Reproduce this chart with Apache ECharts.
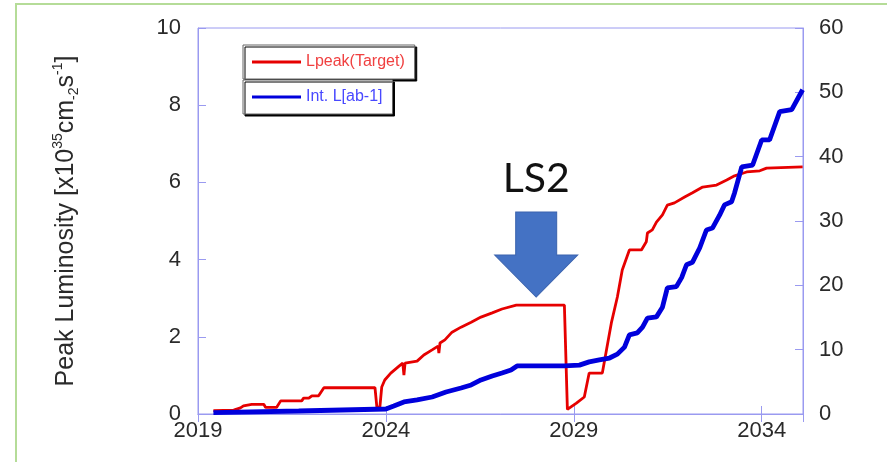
<!DOCTYPE html>
<html>
<head>
<meta charset="utf-8">
<script src="https://cdn.jsdelivr.net/npm/echarts@6/dist/echarts.min.js"></script>
<style>
  html, body { margin: 0; padding: 0; background: #fff; }
  #wrap { position: relative; width: 887px; height: 462px; overflow: hidden; }
  #frame { position: absolute; left: 15px; top: 3px; right: -5px; bottom: -5px;
           border-top: 2px solid #b5dc98; border-left: 2px solid #b5dc98; pointer-events: none; }
  #chart { position: absolute; left: 0; top: 0; width: 887px; height: 462px; }
</style>
</head>
<body>
<div id="wrap">
  <div id="chart"></div>
  <div id="frame"></div>
</div>
<script>
// Lpeak(Target) – left axis, x10^35 cm-2 s-1
const peakYears = [2019.41, 2019.95, 2020.13, 2020.21, 2020.43, 2020.75, 2020.8, 2021.09, 2021.2, 2021.76,
  2021.81, 2021.95, 2022.03, 2022.21, 2022.35, 2023.71, 2023.76, 2023.84, 2023.89, 2023.97,
  2024.13, 2024.35, 2024.45, 2024.48, 2024.51, 2024.83, 2025.01, 2025.23, 2025.39, 2025.41,
  2025.44, 2025.57, 2025.76, 2026.0, 2026.27, 2026.53, 2026.83, 2027.09, 2027.47, 2028.75,
  2028.83, 2029.07, 2029.28, 2029.41, 2029.76, 2029.87, 2030.0, 2030.16, 2030.29, 2030.48,
  2030.8, 2030.93, 2030.96, 2031.09, 2031.2, 2031.36, 2031.49, 2031.68, 2031.95, 2032.16,
  2032.43, 2032.8, 2033.07, 2033.28, 2033.6, 2033.95, 2034.13, 2035.09]
const peakValues = [0.09, 0.1, 0.16, 0.21, 0.25, 0.25, 0.17, 0.17, 0.34, 0.34,
  0.41, 0.41, 0.47, 0.47, 0.68, 0.68, 0.18, 0.18, 0.7, 0.88,
  1.06, 1.24, 1.32, 1.01, 1.32, 1.37, 1.53, 1.66, 1.76, 1.58,
  1.84, 1.92, 2.12, 2.25, 2.38, 2.51, 2.62, 2.72, 2.82, 2.82,
  0.12, 0.28, 0.44, 1.06, 1.06, 1.66, 2.36, 3.03, 3.73, 4.25,
  4.25, 4.46, 4.69, 4.77, 4.97, 5.16, 5.41, 5.47, 5.62, 5.73,
  5.88, 5.93, 6.06, 6.17, 6.27, 6.3, 6.37, 6.4]

// Int. L[ab-1] – right axis
const intYears = [2019.41, 2021.68, 2024.0, 2024.21, 2024.48, 2024.83, 2025.23, 2025.6, 2026.0, 2026.27,
  2026.53, 2026.83, 2027.09, 2027.33, 2027.49, 2028.75, 2029.15, 2029.41, 2029.68, 2029.95,
  2030.16, 2030.35, 2030.48, 2030.69, 2030.83, 2030.96, 2031.2, 2031.36, 2031.49, 2031.73,
  2031.87, 2032.0, 2032.16, 2032.35, 2032.53, 2032.69, 2032.88, 2033.01, 2033.2, 2033.28,
  2033.47, 2033.76, 2034.0, 2034.21, 2034.48, 2034.8, 2035.09]
const intValues = [0.2, 0.47, 0.78, 1.24, 1.87, 2.18, 2.64, 3.42, 4.04, 4.51,
  5.29, 5.91, 6.38, 6.84, 7.47, 7.47, 7.6, 8.1, 8.4, 8.7,
  9.3, 10.4, 12.3, 12.6, 13.5, 14.9, 15.1, 16.6, 19.6, 19.8,
  21.2, 23.2, 23.6, 25.8, 28.6, 28.9, 30.9, 32.5, 33.0, 34.4,
  38.4, 38.7, 42.6, 42.6, 47.0, 47.3, 50.4]

const seriesNames = ['Lpeak(Target)', 'Int. L[ab-1]']
const yearMin = 2019
const yearMax = 2035.1
const ls2Year = 2028.0
const ls2Peak = 3.03

const axisColor = '#9a9af0'
const font = 'Liberation Sans, Arial, sans-serif'

const chart = echarts.init(document.getElementById('chart'), null, { renderer: 'canvas' })

const legendBase = {
  left: 243,
  orient: 'horizontal',
  icon: 'rect',
  itemWidth: 49,
  itemHeight: 3,
  itemGap: 0,
  padding: [9, 10, 9, 9],
  backgroundColor: '#fff',
  borderColor: '#666',
  borderWidth: 1,
  shadowColor: '#000',
  shadowBlur: 0,
  shadowOffsetX: 2,
  shadowOffsetY: 2,
  selectedMode: false,
}

const option = {
  animation: false,
  grid: { left: 198, right: 84, top: 28, bottom: 48, show: true, borderColor: axisColor, borderWidth: 1 },
  legend: [
    Object.assign({}, legendBase, {
      top: 45,
      data: [seriesNames[0]],
      textStyle: { color: '#f04040', fontSize: 16, fontFamily: font },
    }),
    Object.assign({}, legendBase, {
      top: 80,
      data: [seriesNames[1]],
      textStyle: { color: '#4848ff', fontSize: 16, fontFamily: font },
    }),
  ],
  xAxis: [
    {
      type: 'value',
      min: yearMin,
      max: yearMax,
      interval: 5,
      axisLine: { lineStyle: { color: axisColor } },
      axisTick: { inside: true, length: 8, lineStyle: { color: axisColor } },
      splitLine: { show: false },
      axisLabel: {
        showMaxLabel: false,
        formatter: (v) => String(v),
        color: '#2a2a2a',
        fontSize: 22,
        fontFamily: font,
        margin: 6,
      },
    },
    {
      type: 'value',
      position: 'top',
      min: yearMin,
      max: yearMax,
      interval: 5,
      axisLine: { lineStyle: { color: axisColor } },
      axisTick: { inside: true, length: 8, lineStyle: { color: axisColor } },
      splitLine: { show: false },
      axisLabel: { show: false },
    },
  ],
  yAxis: [
    {
      type: 'value',
      min: 0,
      max: 10,
      interval: 2,
      position: 'left',
      axisLine: { show: true, lineStyle: { color: axisColor } },
      axisTick: { show: true, inside: true, length: 8, lineStyle: { color: axisColor } },
      splitLine: { show: false },
      axisLabel: { color: '#2a2a2a', fontSize: 22, fontFamily: font, margin: 17 },
      name: '{a|Peak Luminosity [x10}{sup|35}{a|cm}{sub|-2}{a|s}{sup|-1}{a|]}',
      nameLocation: 'middle',
      nameRotate: 90,
      nameGap: 117,
      nameTextStyle: {
        color: '#2a2a2a',
        fontFamily: font,
        rich: {
          a: { fontSize: 25, fontFamily: font, color: '#2a2a2a', lineHeight: 30 },
          sup: { fontSize: 14, fontFamily: font, color: '#2a2a2a', verticalAlign: 'top', lineHeight: 14 },
          sub: { fontSize: 14, fontFamily: font, color: '#2a2a2a', verticalAlign: 'bottom', lineHeight: 14 },
        },
      },
    },
    {
      type: 'value',
      min: 0,
      max: 60,
      interval: 10,
      position: 'right',
      axisLine: { show: true, lineStyle: { color: axisColor } },
      axisTick: { show: true, inside: true, length: 8, lineStyle: { color: axisColor } },
      splitLine: { show: false },
      axisLabel: { color: '#2a2a2a', fontSize: 22, fontFamily: font, margin: 16 },
    },
  ],
  series: [
    {
      name: seriesNames[0],
      type: 'line',
      yAxisIndex: 0,
      showSymbol: false,
      symbol: 'none',
      data: peakYears.map((y, i) => [y, peakValues[i]]),
      lineStyle: { color: '#e60000', width: 2.8 },
      itemStyle: { color: '#e60000' },
      z: 2,
      markPoint: {
        silent: true,
        data: [
          {
            coord: [ls2Year, ls2Peak],
            symbol: 'path://M21,0 L62,0 L62,43 L83,43 L41.5,85 L0,43 L21,43 Z',
            symbolSize: [83, 85],
            symbolOffset: [0, '-50%'],
            itemStyle: { color: '#4472c4', borderColor: '#3a62ad', borderWidth: 1 },
            label: {
              show: true,
              formatter: 'LS2',
              position: 'top',
              distance: 12,
              color: '#111',
              fontSize: 41,
              fontFamily: 'Lato, sans-serif',
            },
          },
        ],
      },
    },
    {
      name: seriesNames[1],
      type: 'line',
      yAxisIndex: 1,
      showSymbol: false,
      symbol: 'none',
      data: intYears.map((y, i) => [y, intValues[i]]),
      lineStyle: { color: '#0000dc', width: 4.8 },
      itemStyle: { color: '#0000dc' },
      z: 3,
    },
  ],
}

chart.setOption(option)
</script>
</body>
</html>
